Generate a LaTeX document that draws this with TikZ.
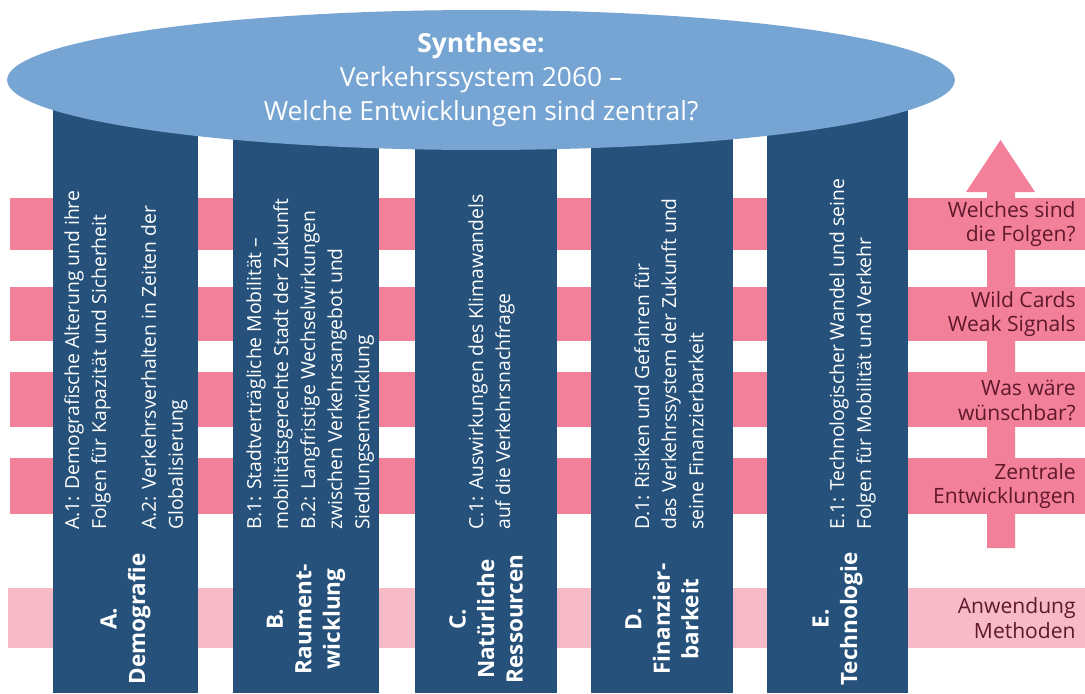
\documentclass[tikz,border=0pt]{standalone}
\usepackage{fontspec}
\setmainfont{Open Sans}
\usetikzlibrary{positioning}

\definecolor{pillarblue}{RGB}{38,81,122}
\definecolor{roofblue}{RGB}{119,165,211}
\definecolor{bandpink}{RGB}{242,128,153}
\definecolor{palepink}{RGB}{247,187,199}
\definecolor{labelred}{RGB}{96,24,44}

\begin{document}
\begin{tikzpicture}
[x=0.02cm,y=-0.02cm,
every node/.style= {inner sep=0pt},
band/.style= {fill=bandpink},
pale band/.style= {fill=palepink},
pillar/.style= {fill=pillarblue},
roof text/.style= {align=center,text=white,font=\fontsize{15}{19.3}\selectfont},
topic/.style= {rotate=90,anchor=north west,align=left,text=white,
font=\fontsize{11}{15.4}\selectfont},
field/.style= {rotate=90,align=center,text=white,
font=\bfseries\fontsize{12.8}{16.2}\selectfont},
phase label/.style= {anchor=east,align=right,text=labelred,
font=\fontsize{12}{14.2}\selectfont}]
\useasboundingbox (0,0) rectangle (1085,693);
% horizontal bands
\fill [band] (10,198) rectangle (1085,250);
\fill [band] (10,287) rectangle (1085,341);
\fill [band] (10,372) rectangle (1085,427);
\fill [band] (10,458) rectangle (1085,514);
\fill [pale band] (8,588) rectangle (1085,648);
% arrow
\fill [band] (987,548) -- (987,192) -- (966,192) -- (1000.5,140)
-- (1035,192) -- (1015,192) -- (1015,548) -- cycle;
% pillars
\fill [pillar] (53,90) rectangle (198,693);
\fill [pillar] (233,90) rectangle (379,693);
\fill [pillar] (415,90) rectangle (557,693);
\fill [pillar] (591,90) rectangle (733,693);
\fill [pillar] (767,90) rectangle (908,693);
% roof
\fill [roofblue] (481,80) ellipse [x radius=9.48cm,y radius=1.4cm];
\node [roof text] (synthese) at (481,80)
{\textbf{Synthese:}\\Verkehrssystem 2060 --\\Welche Entwicklungen sind zentral?};
% topics
\node [topic] (topic a) at (64,530)
{A.1: Demografische Alterung und ihre\\Folgen für Kapazität und Sicherheit\\[0.45cm]
A.2: Verkehrsverhalten in Zeiten der\\Globalisierung};
\node [topic] (topic b) at (246,530)
{B.1: Stadtverträgliche Mobilität --\\mobilitätsgerechte Stadt der Zukunft\\
B.2: Langfristige Wechselwirkungen\\zwischen Verkehrsangebot und\\Siedlungsentwicklung};
\node [topic] (topic c) at (468,530)
{C.1: Auswirkungen des Klimawandels\\auf die Verkehrsnachfrage};
\node [topic] (topic d) at (634,530)
{D.1: Risiken und Gefahren für\\das Verkehrssystem der Zukunft und\\seine Finanzierbarkeit};
\node [topic] (topic e) at (829,530)
{E.1: Technologischer Wandel und seine\\Folgen für Mobilität und Verkehr};
% fields
\node [field] (field a) at (125.5,619) {A.\\Demografie};
\node [field] (field b) at (306,619) {B.\\Raument-\\wicklung};
\node [field] (field c) at (486,619) {C.\\Natürliche\\Ressourcen};
\node [field] (field d) at (662,619) {D.\\Finanzier-\\barkeit};
\node [field] (field e) at (837.5,619) {E.\\Technologie};
% phases
\node [phase label] (folgen) at (1076,224) {Welches sind\\die Folgen?};
\node [phase label] (wild cards) at (1076,314) {Wild Cards\\Weak Signals};
\node [phase label] (wuenschbar) at (1076,400) {Was wäre\\wünschbar?};
\node [phase label] (zentral) at (1076,486) {Zentrale\\Entwicklungen};
\node [phase label] (methoden) at (1076,618) {Anwendung\\Methoden};
\end{tikzpicture}
\end{document}
